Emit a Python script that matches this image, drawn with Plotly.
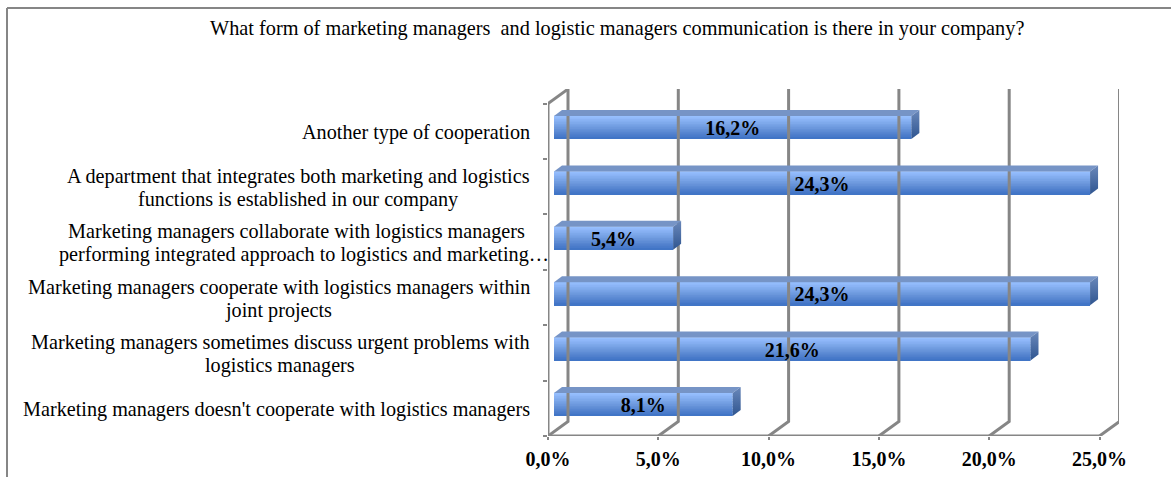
import plotly.graph_objects as go

categories = [
    "Marketing managers doesn't cooperate with logistics managers",
    "Marketing managers sometimes discuss urgent problems with<br>logistics managers",
    "Marketing managers cooperate with logistics managers within<br>joint projects",
    "Marketing managers collaborate with logistics managers<br>performing integrated approach to logistics and marketing…",
    "A department that integrates both marketing and logistics<br>functions is established in our company",
    "Another type of cooperation",
]
values = [8.1, 21.6, 24.3, 5.4, 24.3, 16.2]
value_labels = ["8,1%", "21,6%", "24,3%", "5,4%", "24,3%", "16,2%"]
x_ticks = [0, 5, 10, 15, 20, 25]
x_tick_labels = ["0,0%", "5,0%", "10,0%", "15,0%", "20,0%", "25,0%"]

# pixel geometry of the picture
W, H = 1171, 477
PX_LEFT, PX_RIGHT = 548, 1119
PX_TOP, PX_BOTTOM = 89, 436
PX_PER_X = 22.06
PX_PER_Y = 55.4

# fake 3d depth, in data units
DX = 20 / PX_PER_X
DY = 14.5 / PX_PER_Y
BAR_DX = 6 / PX_PER_X
BAR_DY = 3.8 / PX_PER_Y
SIDE_DX = 8 / PX_PER_X
SIDE_DY = 6 / PX_PER_Y
BAR_H = 23 / PX_PER_Y

GRID = "#868686"
FONT = "Liberation Serif"
LINE_GAP = 23  # tick labels in the reference are set tighter than plotly's <br>
# first lines end here, second lines are centred on their own spot
FIRST_LINE_RIGHT = [532, 532, 532, 527, 532, 532]
SECOND_LINE_CENTRE = [None, 280, 278, 303.5, 298, None]

fig = go.Figure()


def wall_line(xs, ys):
    fig.add_trace(go.Scatter(x=xs, y=ys, mode="lines", hoverinfo="skip", showlegend=False,
                             line=dict(color=GRID, width=3)))


y0 = -0.5
y1 = len(categories) - 0.5
# back wall gridlines and their floor diagonals
for t in x_ticks:
    wall_line([t, t + DX, t + DX], [y0, y0 + DY, y1 + DY])
# left wall edge, top diagonal and floor front edge
wall_line([0, 0], [y0, y1])
wall_line([0, DX], [y1, y1 + DY])
wall_line([0, x_ticks[-1]], [y0, y0])

# bar front as thin strips, light at the top and dark at the bottom
ramp = ["#96bffe", "#90b9fa", "#8ab3f5", "#84aef0", "#7ea9eb", "#78a3e6", "#719de1", "#6b97dc",
        "#6491d8", "#5d8bd4", "#5685d0", "#4f7fcc", "#487aca", "#4175c6"]
strip = BAR_H / len(ramp)
for n, colour in enumerate(ramp):
    fig.add_trace(go.Bar(
        x=values,
        y=list(range(len(values))),
        orientation="h",
        base=BAR_DX,
        width=strip * 1.15,
        offset=BAR_DY + BAR_H / 2 - (n + 1) * strip,
        marker=dict(color=colour, line=dict(width=0)),
        hoverinfo="skip",
        showlegend=False,
    ))

# top and side faces of each bar
for i, v in enumerate(values):
    left = BAR_DX
    right = BAR_DX + v
    top = i + BAR_DY + BAR_H / 2
    bottom = i + BAR_DY - BAR_H / 2
    fig.add_trace(go.Scatter(
        x=[left, left + SIDE_DX, right + SIDE_DX, right, left],
        y=[top, top + SIDE_DY, top + SIDE_DY, top, top],
        mode="lines", fill="toself", fillcolor="#7694c6", line=dict(width=0),
        hoverinfo="skip", showlegend=False,
    ))
    fig.add_trace(go.Scatter(
        x=[right, right + SIDE_DX, right + SIDE_DX, right, right],
        y=[top, top + SIDE_DY, bottom + SIDE_DY, bottom, top],
        mode="lines", fill="toself",
        fillgradient=dict(type="vertical", colorscale=[[0, "#2f5590"], [1, "#6a88ba"]]),
        line=dict(width=0),
        hoverinfo="skip", showlegend=False,
    ))

# value labels
fig.add_trace(go.Scatter(
    x=[BAR_DX + v / 2 for v in values],
    y=[i + BAR_DY - 0.05 for i in range(len(values))],
    mode="text",
    text=value_labels,
    textposition="middle center",
    textfont=dict(family=FONT, size=20, color="#000000", weight="bold"),
    hoverinfo="skip",
    showlegend=False,
))

# category labels, one annotation per line
annotations = [dict(
    text="What form of marketing managers  and logistic managers communication is there in your company?",
    xref="paper", yref="paper", xanchor="center", yanchor="middle",
    x=616.5 / W,
    y=1 - 29 / H,
    showarrow=False,
    font=dict(family=FONT, size=20.3, color="#000000"),
)]
for i, label in enumerate(categories):
    lines = label.split("<br>")
    for k, line in enumerate(lines):
        annotations.append(dict(
            text=line,
            xref="paper", yref="y",
            xanchor="right" if k == 0 else "center",
            yanchor="middle",
            x=(FIRST_LINE_RIGHT[i] if k == 0 else SECOND_LINE_CENTRE[i]) / W,
            y=i,
            yshift=((len(lines) - 1) / 2 - k) * LINE_GAP - 1,
            showarrow=False,
            font=dict(family=FONT, size=20.2, color="#000000"),
        ))

fig.update_layout(
    width=W,
    height=H,
    margin=dict(l=0, r=0, t=0, b=0, autoexpand=False),
    paper_bgcolor="white",
    plot_bgcolor="white",
    barmode="overlay",
    showlegend=False,
    font=dict(family=FONT, color="#000000"),
    xaxis=dict(
        domain=[PX_LEFT / W, PX_RIGHT / W],
        range=[0, (PX_RIGHT - PX_LEFT) / PX_PER_X],
        tickvals=x_ticks,
        ticktext=x_tick_labels,
        tickfont=dict(family=FONT, size=20, color="#000000", weight="bold"),
        ticks="outside",
        ticklen=3,
        tickwidth=1.5,
        tickcolor=GRID,
        ticklabelstandoff=2,
        showgrid=False,
        zeroline=False,
        showline=False,
    ),
    yaxis=dict(
        domain=[1 - PX_BOTTOM / H, 1 - PX_TOP / H],
        range=[y0, y0 + (PX_BOTTOM - PX_TOP) / PX_PER_Y],
        tickvals=[y0 + k for k in range(len(categories) + 1)],
        showticklabels=False,
        ticks="outside",
        ticklen=4,
        tickcolor=GRID,
        tickwidth=1.5,
        showgrid=False,
        zeroline=False,
        showline=False,
    ),
    annotations=annotations,
    shapes=[
        dict(type="line", xref="paper", yref="paper", layer="below",
             x0=7 / W, x1=7 / W, y0=0, y1=1 - 8 / H, line=dict(color=GRID, width=2)),
        dict(type="line", xref="paper", yref="paper", layer="below",
             x0=7 / W, x1=1, y0=1 - 8 / H, y1=1 - 8 / H, line=dict(color=GRID, width=2)),
    ],
)

fig.write_html("out.html", config={"displayModeBar": False},
               post_script="document.body.style.margin='0';")
